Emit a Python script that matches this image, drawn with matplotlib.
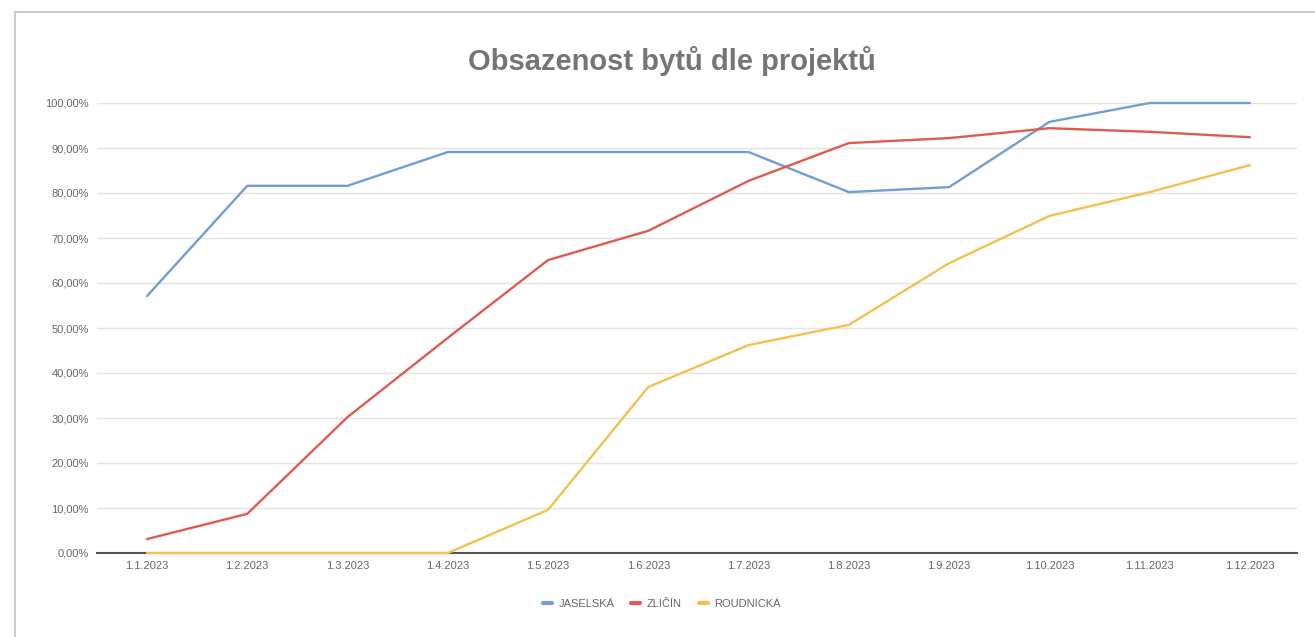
import matplotlib
matplotlib.use('Agg')
import matplotlib.pyplot as plt
from matplotlib.ticker import FuncFormatter

# data
dates = ['1.1.2023', '1.2.2023', '1.3.2023', '1.4.2023', '1.5.2023', '1.6.2023',
         '1.7.2023', '1.8.2023', '1.9.2023', '1.10.2023', '1.11.2023', '1.12.2023']
jaselska = [57.1, 81.6, 81.6, 89.1, 89.1, 89.1, 89.1, 80.2, 81.3, 95.8, 100.0, 100.0]
zlicin = [3.1, 8.7, 30.2, 47.8, 65.1, 71.6, 82.7, 91.1, 92.2, 94.4, 93.6, 92.4]
roudnicka = [0.0, 0.0, 0.0, 0.0, 9.6, 36.9, 46.2, 50.7, 64.4, 74.9, 80.2, 86.2]
names = ['JASELSKÁ', 'ZLIČÍN', 'ROUDNICKÁ']
colors = ['#729dd6', '#e05a52', '#f3c24e']

plt.rcParams['font.family'] = ['Liberation Sans', 'DejaVu Sans']

fig = plt.figure(figsize=(13.15, 6.37), dpi=100)
W, H = 1315, 637
ax = fig.add_axes([97 / W, 1 - 553 / H, 1200 / W, 450 / H])

x = list(range(len(dates)))
for vals, name, c in zip([jaselska, zlicin, roudnicka], names, colors):
    ax.plot(x, vals, color=c, lw=1.7, label=name, solid_capstyle='round',
            zorder=3, clip_on=False)

ax.set_ylim(0, 100)
ax.set_xlim(-0.4986, 11.47)
ax.set_yticks(range(0, 101, 10))
ax.yaxis.set_major_formatter(FuncFormatter(lambda v, p: f'{v:.2f}'.replace('.', ',') + '%'))
ax.set_xticks(x)
ax.set_xticklabels(dates)
ax.tick_params(axis='both', length=0, labelsize=8, colors='#666666', pad=6)
ax.grid(axis='y', color='#e3e3e3', lw=1)
ax.set_axisbelow(True)
for s in ['top', 'right', 'left']:
    ax.spines[s].set_visible(False)
ax.spines['bottom'].set_color('#555555')
ax.spines['bottom'].set_linewidth(1.5)

fig.text(672 / W, 1 - 61 / H, 'Obsazenost bytů dle projektů', ha='center', va='center',
         fontsize=21, fontweight='bold', color='#757575')

leg = fig.legend(loc='center', bbox_to_anchor=(662 / W, 1 - 604 / H), ncol=3, frameon=False,
                 fontsize=8, handlelength=0.8, handletextpad=0.6, columnspacing=1.5)
for t in leg.get_texts():
    t.set_color('#666666')
for h in leg.get_lines():
    h.set_linewidth(3)

# frame of the original screenshot
fig.add_artist(plt.Line2D([15 / W, 15 / W], [0, 1 - 12 / H], color='#cccccc', lw=1.5))
fig.add_artist(plt.Line2D([15 / W, 1], [1 - 12 / H, 1 - 12 / H], color='#cccccc', lw=1.5))

fig.savefig('out.png', dpi=100)
